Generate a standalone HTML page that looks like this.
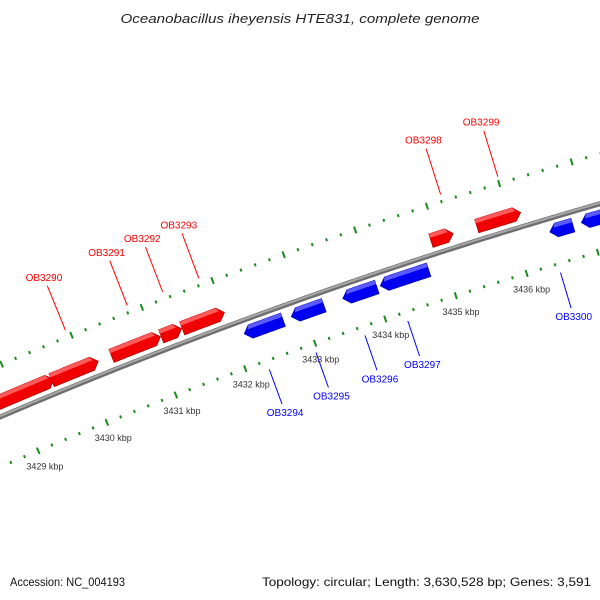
<!DOCTYPE html>
<html><head><meta charset="utf-8"><style>
html,body{margin:0;padding:0;background:#fff;}
svg{display:block;font-family:"Liberation Sans",sans-serif;}
</style></head><body>
<svg id="chart" width="600" height="600" viewBox="0 0 600 600">
<text x="300" y="23" text-anchor="middle" font-size="13" font-style="italic" fill="#222" textLength="359" lengthAdjust="spacingAndGlyphs">Oceanobacillus iheyensis HTE831, complete genome</text>
<g id="ticks"></g>
<g id="backbone"></g>
<g id="genes"></g>
<g id="labels"></g>
<text x="10" y="586" font-size="12" fill="#111" textLength="115" lengthAdjust="spacingAndGlyphs">Accession: NC_004193</text>
<text x="262" y="586" font-size="12" fill="#111" textLength="329" lengthAdjust="spacingAndGlyphs">Topology: circular; Length: 3,630,528 bp; Genes: 3,591</text>
</svg>
<script>
// data (kbp)
const fwdStart = [3428.3, 3429.53, 3430.39, 3431.10, 3431.40, 3434.91, 3435.55];
const fwdEnd   = [3429.56, 3430.20, 3431.09, 3431.39, 3432.00, 3435.22, 3436.16];
const revStart = [3432.15, 3432.82, 3433.55, 3434.08, 3436.46, 3436.90];
const revEnd   = [3432.70, 3433.28, 3434.03, 3434.76, 3436.78, 3437.60];
const fwdLabelNames = ["OB3290", "OB3291", "OB3292", "OB3293", "OB3298", "OB3299"];
const fwdLabelKbp = [3429.95, 3430.83, 3431.33, 3431.84, 3435.22, 3436.01];
const revLabelNames = ["OB3294", "OB3295", "OB3296", "OB3297", "OB3300"];
const revLabelKbp = [3432.30, 3432.97, 3433.67, 3434.28, 3436.44];
const tickMajor = [3429, 3430, 3431, 3432, 3433, 3434, 3435, 3436];
const tickLabels = ["3429 kbp", "3430 kbp", "3431 kbp", "3432 kbp", "3433 kbp", "3434 kbp", "3435 kbp", "3436 kbp"];

const NS = "http://www.w3.org/2000/svg";
const CX = 2007, CY = 5111, R0 = 5105, K0 = 3433, PHI0 = -1.9118, DPHI = 0.01468;
function pt(k, r) { const a = PHI0 + (k - K0) * DPHI; return [CX + r * Math.cos(a), CY + r * Math.sin(a)]; }
function mk(tag, attrs, parent) { const e = document.createElementNS(NS, tag); for (const k in attrs) e.setAttribute(k, attrs[k]); parent.appendChild(e); return e; }
function arcPts(k1, k2, r) { const out = []; const n = Math.max(2, Math.ceil(Math.abs(k2 - k1) / 0.05)); for (let i = 0; i <= n; i++) out.push(pt(k1 + (k2 - k1) * i / n, r)); return out; }
function ps(a) { return a.map(p => p[0].toFixed(2) + "," + p[1].toFixed(2)).join(" "); }

// backbone
const bb = document.getElementById("backbone");
const b1 = mk("polyline", { points: ps(arcPts(3427, 3439, R0)), fill: "none", stroke: "#6e6e6e", "stroke-width": 5 }, bb);


const b2 = mk("polyline", { points: ps(arcPts(3427, 3439, R0 + 0.8)), fill: "none", stroke: "#a8a8a8", "stroke-width": 2 }, bb);



// ticks
const tg = document.getElementById("ticks");
const green = "#1c8a1c";
[R0 + 48, R0 - 46].forEach((rr) => {
  for (let t = 17135; t <= 17195; t++) {
    const k = t / 5;
    const major = t % 5 === 0;
    const h = major ? 3.5 : 1.5;
    const a = pt(k, rr - h), b = pt(k, rr + h);
    const ln = mk("line", { x1: a[0], y1: a[1], x2: b[0], y2: b[1], stroke: green, "stroke-width": 2 }, tg);
    
    
  }
});
tickMajor.forEach((k, i) => {
  const p = pt(k, R0 - 63);
  const tx = mk("text", { x: p[0], y: p[1] + 3, "text-anchor": "middle", "font-size": 9, fill: "#333" }, tg);
  tx.textContent = tickLabels[i];
  
  
});

// genes
const gg = document.getElementById("genes");
function gene(s, e, rIn, rOut, forward, base, light, dark) {
  const head = Math.min(0.09, (e - s) / 2);
  const rMid = (rIn + rOut) / 2;
  let poly, band;
  if (forward) {
    const he = e - head;
    poly = arcPts(s, he, rOut).concat([pt(e, rMid)]).concat(arcPts(he, s, rIn));
    band = arcPts(s, he, rOut).concat([pt(e - head * 0.7, rOut - 4)]).concat(arcPts(he, s, rOut - 4));
  } else {
    const hs = s + head;
    poly = [pt(s, rMid)].concat(arcPts(hs, e, rOut)).concat(arcPts(e, hs, rIn));
    band = [pt(s + head * 0.7, rOut - 4)].concat(arcPts(hs, e, rOut)).concat(arcPts(e, hs, rOut - 4));
  }
  const g = mk("g", {}, gg);
  
  
  mk("polygon", { points: ps(poly), fill: base, stroke: dark, "stroke-width": 0.8 }, g);
  mk("polygon", { points: ps(band), fill: light }, g);
}
for (let i = 0; i < fwdStart.length; i++) gene(fwdStart[i], fwdEnd[i], R0 + 7, R0 + 21, true, "#f00000", "#ff5a5a", "#b00000");
for (let i = 0; i < revStart.length; i++) gene(revStart[i], revEnd[i], R0 - 20, R0 - 6, false, "#0000f0", "#5a5aff", "#0000a8");

// labels
const lg = document.getElementById("labels");
function label(name, k, r1, r2, rt, col) {
  const a = pt(k, r1), b = pt(k, r2), t = pt(k, rt);
  const ln = mk("line", { x1: a[0], y1: a[1], x2: b[0], y2: b[1], stroke: col, "stroke-width": 1 }, lg);
  
  
  const tx = mk("text", { x: t[0], y: t[1] + 3.5, "text-anchor": "middle", "font-size": 10, fill: col }, lg);
  tx.textContent = name;
  
  
}
fwdLabelNames.forEach((n, i) => label(n, fwdLabelKbp[i], R0 + 55, R0 + 103, R0 + 112, "#ff0000"));
revLabelNames.forEach((n, i) => label(n, revLabelKbp[i], R0 - 55, R0 - 92, R0 - 101, "#0000ff"));
</script>
</body></html>
